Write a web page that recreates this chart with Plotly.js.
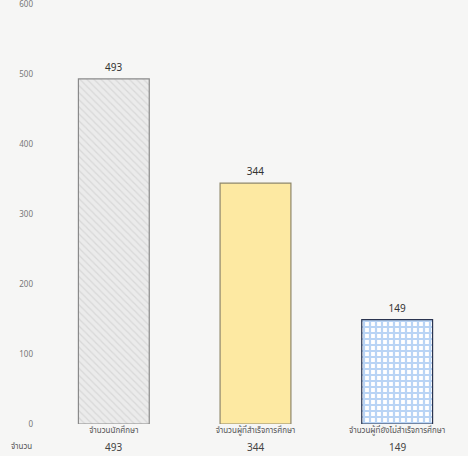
<!DOCTYPE html>
<html><head><meta charset="utf-8">
<script src="https://cdn.plot.ly/plotly-3.0.1.min.js"></script>
<style>html,body{margin:0;padding:0;background:#f6f6f5;}</style>
</head><body>
<div id="chart" style="width:468px;height:456px;"></div>
<script>
const categories = ["จำนวนนักศึกษา", "จำนวนผู้ที่สำเร็จการศึกษา", "จำนวนผู้ที่ยังไม่สำเร็จการศึกษา"];
const values = [493, 344, 149];
const rowLabel = "จำนวน";
const yTicks = [0, 100, 200, 300, 400, 500, 600];

const styles = [
  {color: "#ebebeb", line: "#8a8a8a", pattern: {shape: "\\", fgcolor: "#c6c6c6", bgcolor: "#ebebeb", size: 5, solidity: 0.25, fillmode: "overlay"}},
  {color: "#fde9a2", line: "#8f876a", pattern: {shape: ""}},
  {color: "#ffffff", line: "#2a3450", pattern: {shape: "+", fgcolor: "#74aaec", bgcolor: "#ffffff", size: 6, solidity: 0.6, fillmode: "overlay"}}
];

const traces = categories.map((c, i) => ({
  type: "bar",
  x: [c],
  y: [values[i]],
  width: 0.5,
  text: [String(values[i])],
  textposition: "outside",
  cliponaxis: false,
  textfont: {size: 10, color: "#333"},
  marker: {
    color: styles[i].color,
    line: {color: styles[i].line, width: 1.2},
    pattern: styles[i].pattern
  },
  hoverinfo: "none"
}));

const annotations = [{
  text: rowLabel, xref: "paper", yref: "paper", x: -0.05, y: 0,
  xanchor: "center", yanchor: "middle", yshift: -23, showarrow: false,
  font: {size: 8, color: "#555"}
}];
categories.forEach((c, i) => {
  annotations.push({
    text: String(values[i]), xref: "x", yref: "paper", x: c, y: 0,
    xanchor: "center", yanchor: "middle", yshift: -24, showarrow: false,
    font: {size: 10, color: "#444"}
  });
});

const layout = {
  width: 468, height: 456,
  margin: {l: 43, r: 0, t: 0, b: 32},
  paper_bgcolor: "#f6f6f5",
  plot_bgcolor: "#f6f6f5",
  font: {family: "Noto Sans Thai, Noto Sans, DejaVu Sans, sans-serif", color: "#555"},
  showlegend: false,
  barmode: "overlay",
  xaxis: {
    type: "category",
    categoryarray: categories,
    tickmode: "array",
    tickvals: categories,
    tickfont: {size: 8, color: "#555"},
    showline: false, showgrid: false, zeroline: false, ticks: "",
    ticklabelstandoff: 0,
    fixedrange: true
  },
  yaxis: {
    range: [0, 605.7],
    tickmode: "array",
    tickvals: yTicks,
    tickfont: {size: 8, color: "#777"},
    showgrid: false, zeroline: false, showline: false, ticks: "",
    ticklabelstandoff: 9,
    ticklabeloverflow: "allow"
  },
  annotations: annotations
};

Plotly.newPlot("chart", traces, layout, {displayModeBar: false, staticPlot: true});
</script>
</body></html>
